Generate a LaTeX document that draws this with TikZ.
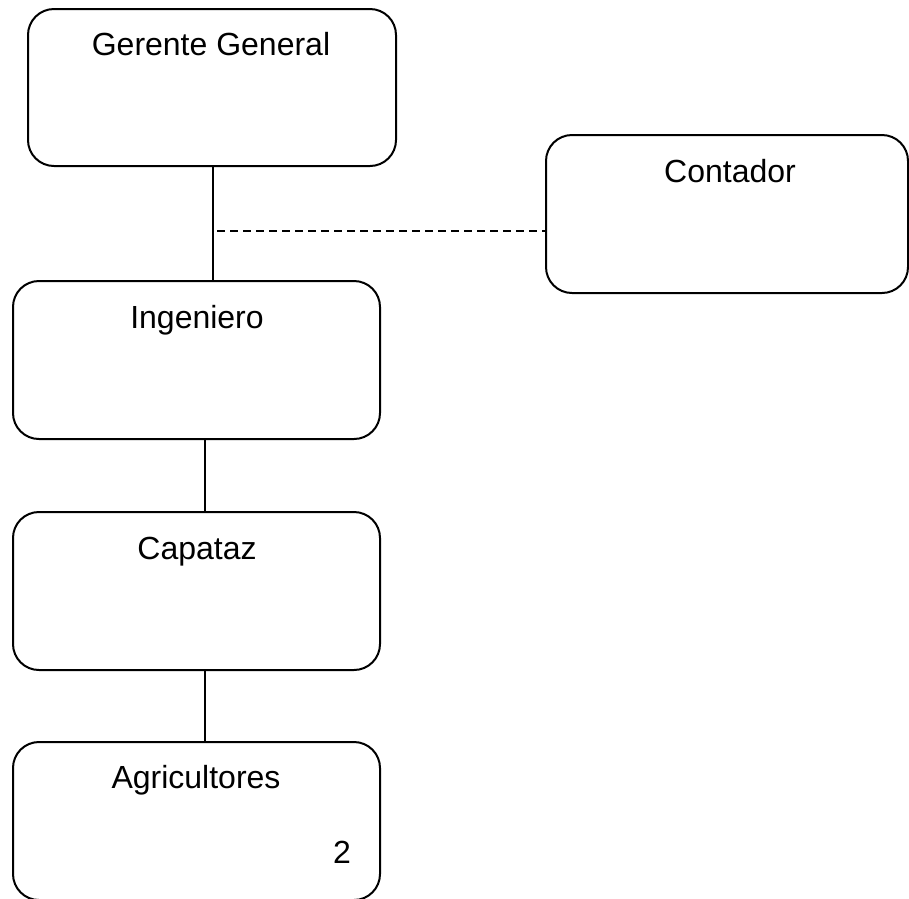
\documentclass[tikz,border=0pt]{standalone}
\usepackage{fontspec}
\setmainfont{Liberation Sans}
\begin{document}
\begin{tikzpicture}[x=1pt,y=-1pt,
  box/.style={draw,line width=2pt,rounded corners=26pt,inner sep=0pt,minimum height=158pt},
  lbl/.style={anchor=base,inner sep=0pt,font=\fontsize{32}{38}\selectfont},
  conn/.style={line width=2pt}]
\useasboundingbox (0,0) rectangle (909,898);
\node[box,minimum width=368pt,minimum height=157pt] (ger) at (212,87.5) {};
\node[box,minimum width=362pt] (cont) at (727,214) {};
\node[box,minimum width=367pt] (ing) at (196.5,360) {};
\node[box,minimum width=367pt] (cap) at (196.5,591) {};
\node[box,minimum width=367pt] (agr) at (196.5,821) {};
\node[lbl] (tger) at (211,55) {Gerente General};
\node[lbl] (tcont) at (730,182) {Contador};
\node[lbl] (ting) at (197,328) {Ingeniero};
\node[lbl] (tcap) at (197,559) {Capataz};
\node[lbl] (tagr) at (196,788) {Agricultores};
\node[lbl] (two) at (342,863) {2};
\coordinate (top) at ([xshift=1pt]ger.south);
\draw[conn] (top) -- (top |- ing.north);
\coordinate (j) at (213,231);
\draw[conn,dashed,dash pattern=on 8pt off 5pt] ([xshift=4pt]j) -- (j -| cont.west);
\draw[conn] ([xshift=8.5pt]ing.south) -- ([xshift=8.5pt]cap.north);
\draw[conn] ([xshift=8.5pt]cap.south) -- ([xshift=8.5pt]agr.north);
\end{tikzpicture}
\end{document}
